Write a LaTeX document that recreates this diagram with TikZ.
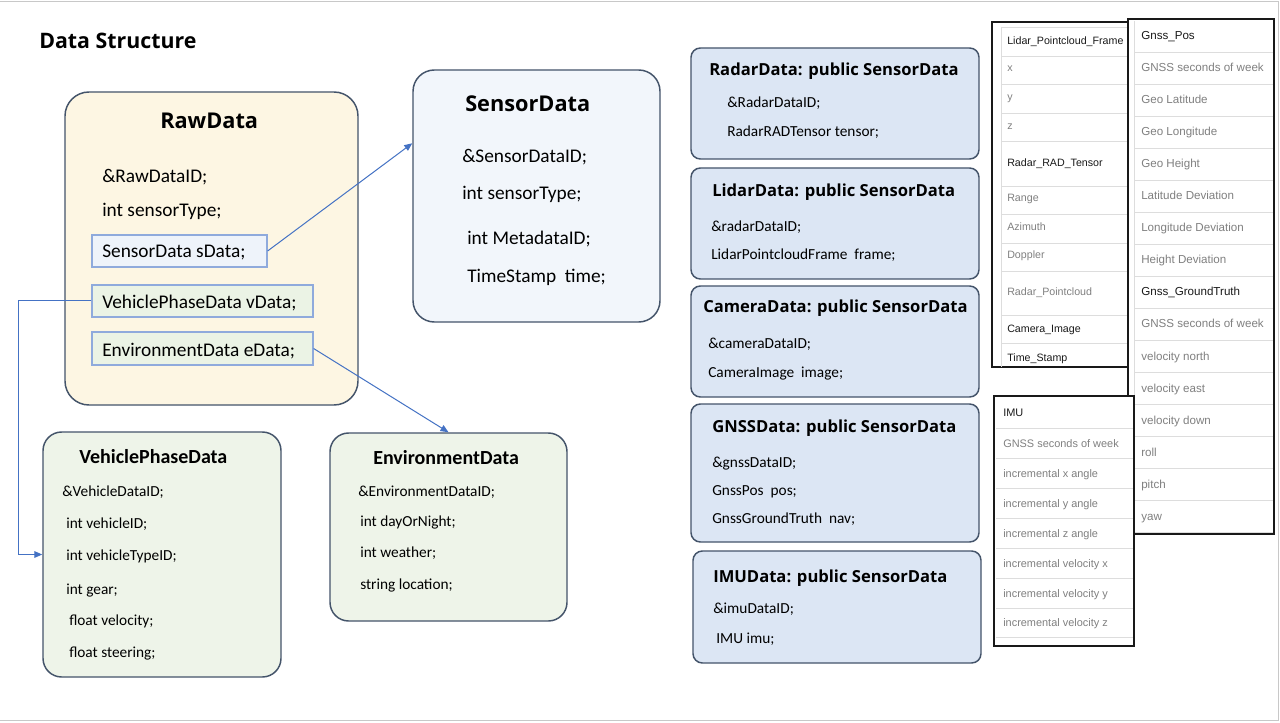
\documentclass[tikz,border=0pt]{standalone}
\usepackage{fontspec}
\setmainfont{Carlito}
\newfontfamily\ttlfont{Open Sans}
\newfontfamily\tabfont{Liberation Sans}
\usetikzlibrary{fit,arrows.meta}
\definecolor{boxline}{HTML}{44546A}
\definecolor{rawfill}{HTML}{FDF6E3}
\definecolor{sensfill}{HTML}{F2F6FB}
\definecolor{greenfill}{HTML}{EEF4E9}
\definecolor{rfill}{HTML}{DCE6F4}
\definecolor{sfill}{HTML}{EEF3FA}
\definecolor{gfill}{HTML}{EBF3E5}
\definecolor{fieldline}{HTML}{8FAADC}
\definecolor{arrowc}{HTML}{4472C4}
\definecolor{framegray}{HTML}{C8C8C8}
\definecolor{hd}{HTML}{1A1A1A}
\definecolor{vl}{HTML}{808080}
\definecolor{sepc}{HTML}{DDDDDD}
\tikzset{
  bigbox/.style={draw=boxline, line width=1.1pt, inner sep=0pt},
  fieldbox/.style={draw=fieldline, line width=0.9pt, inner sep=0pt},
  rbox/.style={draw=boxline, fill=rfill, line width=1.1pt, rounded corners=7pt, inner sep=0pt},
  tbl/.style={draw=black!90, fill=white, line width=1pt, inner sep=0pt},
  sepline/.style={draw=sepc, line width=0.6pt},
  txt/.style={anchor=base west, inner sep=0pt, text=black, font=\fontsize{14.5}{17}\selectfont},
  stxt/.style={anchor=base west, inner sep=0pt, text=black, font=\fontsize{11.5}{14}\selectfont},
  bigttl/.style={anchor=base west, inner sep=0pt, text=black, font=\ttlfont\bfseries\fontsize{16.3}{20}\selectfont},
  gttl/.style={anchor=base west, inner sep=0pt, text=black, font=\bfseries\fontsize{15}{18}\selectfont},
  rttl/.style={anchor=base west, inner sep=0pt, text=black, font=\ttlfont\bfseries\fontsize{12.45}{16}\selectfont},
  tabA/.style={anchor=base west, inner sep=0pt, font=\tabfont\fontsize{8}{10}\selectfont},
  tabB/.style={anchor=base west, inner sep=0pt, font=\tabfont\fontsize{8.7}{10}\selectfont},
  tabC/.style={anchor=base west, inner sep=0pt, font=\tabfont\fontsize{8.2}{10}\selectfont},
  conn/.style={draw=arrowc, line width=0.75pt, -{Triangle[length=6pt,width=5pt]}},
}
\begin{document}
\begin{tikzpicture}[x=0.75pt,y=-0.75pt]
\useasboundingbox (0,0) rectangle (1280,723);
\fill[white] (0,0) rectangle (1280,723);
\draw[framegray, line width=1.2pt] (0,1.5) -- (1278.5,1.5) -- (1278.5,720.5) -- (0,720.5);

\node[anchor=base west, inner sep=0pt, font=\ttlfont\bfseries\fontsize{16}{20}\selectfont] (title) at (39,49) {Data Structure};

% RawData
\node[bigbox, fill=rawfill, rounded corners=18pt, fit={(65,92)(358,405)}] (raw) {};
\node[bigttl] (rawT) at (160,129) {RawData};
\node[txt] (raw1) at (102,183) {\&RawDataID;};
\node[txt] (raw2) at (102,217) {int sensorType;};
\node[fieldbox, fill=sfill, fit={(92,235)(267,267)}] (sdata) {};
\node[txt] (sdataT) at (102,258) {SensorData sData;};
\node[fieldbox, fill=gfill, fit={(92,285)(313,317)}] (vdata) {};
\node[txt] (vdataT) at (102,309) {VehiclePhaseData vData;};
\node[fieldbox, fill=gfill, fit={(92,332)(313,365)}] (edata) {};
\node[txt] (edataT) at (102,356) {EnvironmentData eData;};

% SensorData
\node[bigbox, fill=sensfill, rounded corners=16pt, fit={(413,70)(660,322)}] (sensor) {};
\node[bigttl] (sensT) at (465,112) {SensorData};
\node[txt] (sens1) at (462,163) {\&SensorDataID;};
\node[txt] (sens2) at (462,200) {int sensorType;};
\node[txt] (sens3) at (467,245) {int MetadataID;};
\node[txt] (sens4) at (467,283) {TimeStamp\ \ time;};

% VehiclePhaseData
\node[bigbox, fill=greenfill, rounded corners=14pt, fit={(43,432)(281,677)}] (veh) {};
\node[gttl] (vehT) at (79,463) {VehiclePhaseData};
\node[stxt] (veh1) at (62,496) {\&VehicleDataID;};
\node[stxt] (veh2) at (66,528) {int vehicleID;};
\node[stxt] (veh3) at (66,560) {int vehicleTypeID;};
\node[stxt] (veh4) at (66,594) {int gear;};
\node[stxt] (veh5) at (69,625) {float velocity;};
\node[stxt] (veh6) at (69,657) {float steering;};

% EnvironmentData
\node[bigbox, fill=greenfill, rounded corners=14pt, fit={(330,433)(567,621)}] (env) {};
\node[gttl] (envT) at (373,464) {EnvironmentData};
\node[stxt] (env1) at (358,496) {\&EnvironmentDataID;};
\node[stxt] (env2) at (360,526) {int dayOrNight;};
\node[stxt] (env3) at (360,557) {int weather;};
\node[stxt] (env4) at (360,589) {string location;};

% connectors
\draw[conn] (sdata.east) -- ([yshift=-55.5pt]sensor.north west);
\draw[conn] (edata.east) -- (env.north);
\draw[conn] (vdata.west) -- ++(-54.75pt,0) |- (veh.west);

% right boxes
\node[rbox, fit={(691,48)(979,159)}] (radar) {};
\node[rttl] (radarT) at (709,76) {RadarData: public SensorData};
\node[stxt] (radar1) at (727,108) {\&RadarDataID;};
\node[stxt] (radar2) at (727,137) {RadarRADTensor tensor;};

\node[rbox, fit={(691,168)(979,279)}] (lidar) {};
\node[rttl] (lidarT) at (712,197) {LidarData: public SensorData};
\node[stxt] (lidar1) at (711,232) {\&radarDataID;};
\node[stxt] (lidar2) at (711,260) {LidarPointcloudFrame\ \ frame;};

\node[rbox, fit={(691,286)(979,397)}] (camera) {};
\node[rttl] (cameraT) at (703,313) {CameraData: public SensorData};
\node[stxt] (camera1) at (708,349) {\&cameraDataID;};
\node[stxt] (camera2) at (708,377) {CameraImage\ \ image;};

\node[rbox, fit={(691,404)(979,542)}] (gnss) {};
\node[rttl] (gnssT) at (712,432) {GNSSData: public SensorData};
\node[stxt] (gnss1) at (712,467) {\&gnssDataID;};
\node[stxt] (gnss2) at (712,495) {GnssPos\ \ pos;};
\node[stxt] (gnss3) at (712,523) {GnssGroundTruth\ \ nav;};

\node[rbox, fit={(693,551)(981,663)}] (imu) {};
\node[rttl] (imuT) at (713,582) {IMUData: public SensorData};
\node[stxt] (imu1) at (713,613) {\&imuDataID;};
\node[stxt] (imu2) at (716,643) {IMU imu;};

% Table A
\node[tbl, fit={(992,22)(1128,367)}] (tA) {};
\draw[sepline] (1001,27) -- (1001,367);
\draw[sepline] (1001,27) -- (1128,27);
\foreach \y in {56,84,113,141,186,214,243,271,315,343} \draw[sepline] (1001,\y) -- (1128,\y);
\foreach \t/\y/\c [count=\i] in {Lidar\_Pointcloud\_Frame/45/hd, x/72/vl, y/101/vl, z/130/vl, Radar\_RAD\_Tensor/167/hd, Range/202/vl, Azimuth/231/vl, Doppler/259/vl, Radar\_Pointcloud/296/vl, Camera\_Image/333/hd, Time\_Stamp/361/hd}
  \node[tabA, text=\c] (tA\i) at (1007,\y) {\t};

% Table B
\node[tbl, fit={(1128,19)(1274,534)}] (tB) {};
\draw[sepline] (1134,21) -- (1134,532) -- (1273,532);
\foreach \y in {52,84,...,500} \draw[sepline] (1134,\y) -- (1273,\y);
\foreach \t/\y/\c [count=\i] in {Gnss\_Pos/40/hd, GNSS seconds of week/72/vl, Geo Latitude/104/vl, Geo Longitude/136/vl, Geo Height/168/vl, Latitude Deviation/200/vl, Longitude Deviation/232/vl, Height Deviation/264/vl, Gnss\_GroundTruth/296/hd, GNSS seconds of week/328/vl, velocity north/360/vl, velocity east/392/vl, velocity down/424/vl, roll/456/vl, pitch/488/vl, yaw/520/vl}
  \node[tabB, text=\c] (tB\i) at (1141,\y) {\t};

% Table C
\node[tbl, fit={(994,396)(1134,646)}] (tC) {};
\foreach \y in {428,458,...,608,637} \draw[sepline] (996,\y) -- (1133,\y);
\foreach \t/\y/\c [count=\i] in {IMU/416/hd, GNSS seconds of week/447/vl, incremental x angle/477/vl, incremental y angle/507/vl, incremental z angle/537/vl, incremental velocity x/567/vl, incremental velocity y/597/vl, incremental velocity z/626/vl}
  \node[tabC, text=\c] (tC\i) at (1003,\y) {\t};
\end{tikzpicture}
\end{document}
